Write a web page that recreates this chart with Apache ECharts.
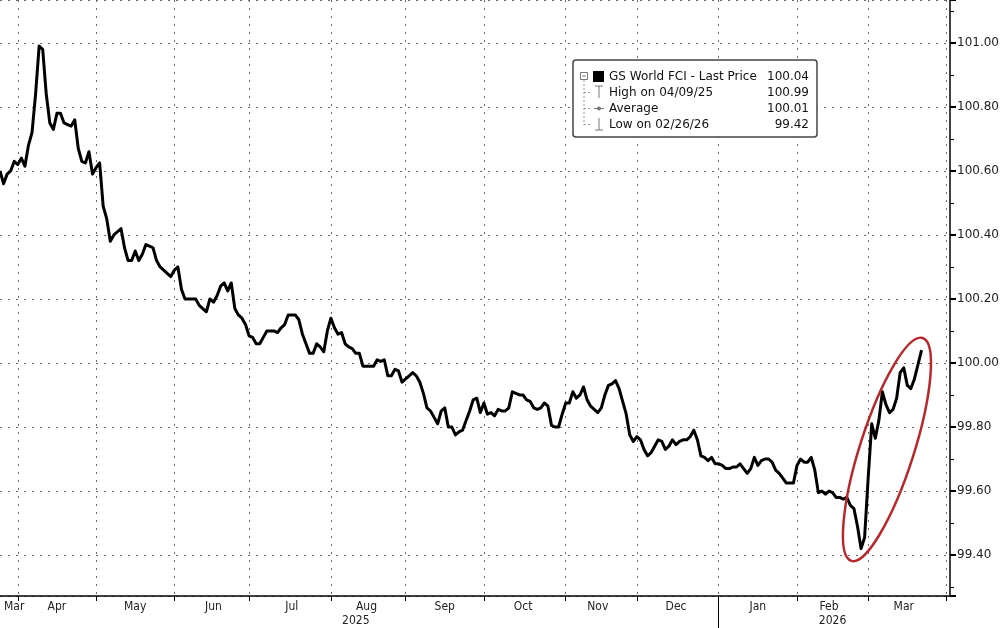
<!DOCTYPE html>
<html><head><meta charset="utf-8">
<script src="https://cdn.jsdelivr.net/npm/echarts@6/dist/echarts.min.js"></script>
<style>html,body{margin:0;padding:0;background:#fff}#c{width:1004px;height:628px}</style>
</head><body><div id="c"></div>
<script>
const mk = (ym, days) => days.map(d => ym + '-' + String(d).padStart(2, '0'));

// trading days with data
const dataDates = [].concat(
  mk('2025-03', [25,26,27,28,31]),
  mk('2025-04', [1,2,3,4,7,8,9,10,11,14,15,16,17,18,21,22,23,24,25,28,29,30]),
  mk('2025-05', [1,2,5,6,7,8,9,12,13,14,15,16,19,20,21,22,23,26,27,28,29,30]),
  mk('2025-06', [2,3,4,5,6,9,10,11,12,13,16,17,18,19,20,23,24,25,26,27,30]),
  mk('2025-07', [1,2,3,4,7,8,9,10,11,14,15,16,17,18,21,22,23,24,25,28,29,30,31]),
  mk('2025-08', [1,4,5,6,7,8,11,12,13,14,15,18,19,20,21,22,25,26,27,28,29]),
  mk('2025-09', [1,2,3,4,5,8,9,10,11,12,15,16,17,18,19,22,23,24,25,26,29,30]),
  mk('2025-10', [1,2,3,6,7,8,9,10,13,14,15,16,17,20,21,22,23,24,27,28,29,30,31]),
  mk('2025-11', [3,4,5,6,7,10,11,12,13,14,17,18,19,20,21,24,25,26,27,28]),
  mk('2025-12', [1,2,3,4,5,8,9,10,11,12,15,16,17,18,19,22,23,24,25,26,29,30,31]),
  mk('2026-01', [1,2,5,6,7,8,9,12,13,14,15,16,19,20,21,22,23,26,27,28,29,30]),
  mk('2026-02', [2,3,4,5,6,9,10,11,12,13,16,17,18,19,20,23,24,25,26,27]),
  mk('2026-03', [2,3,4,5,6,9,10,11,12,13,16,17,18,19,20,23])
);
// empty trading days to the right edge of the axis
const futureDates = [].concat(mk('2026-03', [24,25,26,27,30,31]), mk('2026-04', [1,2]));

// GS World FCI values (one per data date)
const values = [
  100.60,100.56,100.59,100.60,100.63,
  100.62,100.64,100.615,100.68,100.72,100.84,100.99,100.98,100.84,100.75,100.73,100.78,100.78,100.75,100.745,100.74,100.76,100.67,100.63,100.625,100.66,100.59,
  100.61,100.625,100.49,100.45,100.38,100.40,100.41,100.42,100.36,100.32,100.32,100.35,100.32,100.34,100.37,100.365,100.36,100.32,100.30,100.29,100.28,100.27,
  100.29,100.30,100.23,100.20,100.20,100.20,100.20,100.18,100.17,100.16,100.20,100.19,100.21,100.24,100.25,100.225,100.25,100.17,100.15,100.14,100.12,
  100.085,100.08,100.06,100.06,100.08,100.10,100.10,100.10,100.095,100.11,100.12,100.15,100.15,100.15,100.135,100.09,100.06,100.03,100.03,100.06,100.05,100.035,100.10,
  100.14,100.11,100.09,100.095,100.06,100.05,100.045,100.03,100.03,99.99,99.99,99.99,99.99,100.01,100.005,100.01,99.96,99.96,99.98,99.975,99.94,
  99.95,99.96,99.97,99.96,99.94,99.905,99.86,99.85,99.83,99.81,99.85,99.86,99.80,99.80,99.775,99.785,99.79,99.82,99.85,99.885,99.89,99.845,
  99.875,99.84,99.845,99.835,99.855,99.85,99.85,99.86,99.91,99.905,99.90,99.90,99.885,99.88,99.86,99.855,99.86,99.875,99.865,99.805,99.80,99.80,99.84,
  99.875,99.875,99.91,99.89,99.90,99.925,99.885,99.865,99.855,99.845,99.86,99.90,99.93,99.935,99.945,99.92,99.88,99.84,99.775,99.755,
  99.77,99.76,99.73,99.71,99.72,99.74,99.76,99.755,99.73,99.74,99.76,99.745,99.755,99.76,99.76,99.77,99.79,99.76,99.71,99.705,99.695,99.705,99.685,
  99.685,99.68,99.67,99.67,99.675,99.675,99.685,99.67,99.655,99.67,99.705,99.68,99.695,99.70,99.70,99.69,99.665,99.655,99.64,99.625,99.625,99.625,
  99.68,99.70,99.69,99.69,99.705,99.665,99.595,99.60,99.59,99.60,99.595,99.58,99.58,99.575,99.58,99.555,99.545,99.49,99.42,99.455,
  99.64,99.81,99.765,99.82,99.91,99.87,99.845,99.855,99.89,99.97,99.985,99.93,99.92,99.95,99.995,100.04
];

// axis ticks (month starts) and labels
const monthStartDates = ['2025-04-01','2025-05-01','2025-06-02','2025-07-01','2025-08-01','2025-09-01','2025-10-01','2025-11-03','2025-12-01','2026-01-01','2026-02-02','2026-03-02','2026-04-01'];
const monthLabelDates = ['2025-03-31','2025-04-16','2025-05-16','2025-06-17','2025-07-17','2025-08-15','2025-09-16','2025-10-16','2025-11-14','2025-12-16','2026-01-16','2026-02-13','2026-03-16'];
const monthLabels = ['Mar','Apr','May','Jun','Jul','Aug','Sep','Oct','Nov','Dec','Jan','Feb','Mar'];
const yearLabelDates = ['2025-08-12','2026-02-16'];
const yearLabels = ['2025','2026'];
const yearBreakDates = ['2026-01-01'];

// legend texts
const legendNames = ['GS World FCI - Last Price','High on 04/09/25','Average','Low on 02/26/26'];
const legendValues = ['100.04','100.99','100.01','99.42'];

const allDates = dataDates.concat(futureDates);
const lastPrice = values[values.length - 1];

const chart = echarts.init(document.getElementById('c'), null, {renderer: 'canvas'});
const dotted = {color: '#6a6a6a', width: 1, type: [2, 6]};
const textFont = 'DejaVu Sans';
const narrowFont = "'DejaVu Sans Condensed', 'Liberation Sans Narrow', 'Roboto Condensed', 'Liberation Sans', 'DejaVu Sans', sans-serif";
const lx = 609, rx = 809, rowY = [76.5, 92.5, 108.5, 124.5];
const gray = '#777';

const legendGraphic = [
  {type: 'rect', shape: {x: 573, y: 60, width: 244, height: 77, r: 3}, style: {fill: '#fff', stroke: '#444', lineWidth: 1.5}, z: 10},
  {type: 'rect', shape: {x: 580.5, y: 72.5, width: 7, height: 7}, style: {fill: '#fff', stroke: gray, lineWidth: 1}, z: 11},
  {type: 'line', shape: {x1: 582, y1: 76, x2: 586, y2: 76}, style: {stroke: gray, lineWidth: 1}, z: 11},
  {type: 'line', shape: {x1: 584, y1: 80, x2: 584, y2: 125}, style: {stroke: '#999', lineWidth: 1, lineDash: [2, 2]}, z: 11},
  {type: 'line', shape: {x1: 584, y1: 92.5, x2: 591, y2: 92.5}, style: {stroke: '#999', lineWidth: 1, lineDash: [2, 2]}, z: 11},
  {type: 'line', shape: {x1: 584, y1: 108.5, x2: 591, y2: 108.5}, style: {stroke: '#999', lineWidth: 1, lineDash: [2, 2]}, z: 11},
  {type: 'line', shape: {x1: 584, y1: 124.5, x2: 591, y2: 124.5}, style: {stroke: '#999', lineWidth: 1, lineDash: [2, 2]}, z: 11},
  {type: 'rect', shape: {x: 593, y: 71, width: 11, height: 11}, style: {fill: '#000'}, z: 11},
  {type: 'line', shape: {x1: 595, y1: 86, x2: 603, y2: 86}, style: {stroke: gray, lineWidth: 1}, z: 11},
  {type: 'line', shape: {x1: 599, y1: 86, x2: 599, y2: 98}, style: {stroke: gray, lineWidth: 1}, z: 11},
  {type: 'line', shape: {x1: 594, y1: 108.5, x2: 604, y2: 108.5}, style: {stroke: gray, lineWidth: 1}, z: 11},
  {type: 'circle', shape: {cx: 599, cy: 108.5, r: 2}, style: {fill: gray}, z: 11},
  {type: 'line', shape: {x1: 599, y1: 118, x2: 599, y2: 130}, style: {stroke: gray, lineWidth: 1}, z: 11},
  {type: 'line', shape: {x1: 595, y1: 130, x2: 603, y2: 130}, style: {stroke: gray, lineWidth: 1}, z: 11}
];
legendNames.forEach((t, i) => {
  legendGraphic.push({type: 'text', x: lx, y: rowY[i], style: {text: t, fill: '#111', font: '12px ' + textFont, textAlign: 'left', textVerticalAlign: 'middle'}, z: 11});
  legendGraphic.push({type: 'text', x: rx, y: rowY[i], style: {text: legendValues[i], fill: '#111', font: '12px ' + textFont, textAlign: 'right', textVerticalAlign: 'middle'}, z: 11});
});

const option = {
  backgroundColor: '#fff',
  animation: false,
  grid: {left: 0, right: 54, top: 0, bottom: 32, containLabel: false},
  xAxis: [{
    type: 'category', data: allDates, boundaryGap: false,
    axisLine: {show: true, lineStyle: {color: '#000', width: 1.5}},
    axisTick: {show: true, length: 5, interval: (i, v) => monthStartDates.includes(v), lineStyle: {color: '#000', width: 1}},
    splitLine: {show: true, interval: (i, v) => monthStartDates.includes(v), lineStyle: dotted},
    axisLabel: {
      interval: (i, v) => monthLabelDates.includes(v),
      formatter: v => monthLabels[monthLabelDates.indexOf(v)],
      color: '#222', fontFamily: narrowFont, fontSize: 12, margin: 5, hideOverlap: false
    }
  }, {
    type: 'category', data: allDates, boundaryGap: false, position: 'bottom', gridIndex: 0,
    axisLine: {show: false},
    axisTick: {show: true, length: 32, interval: (i, v) => yearBreakDates.includes(v), lineStyle: {color: '#000', width: 1}},
    splitLine: {show: false},
    axisLabel: {
      interval: (i, v) => yearLabelDates.includes(v),
      formatter: v => yearLabels[yearLabelDates.indexOf(v)],
      color: '#222', fontFamily: narrowFont, fontSize: 12, margin: 19, hideOverlap: false
    }
  }],
  yAxis: {
    type: 'value', position: 'right', min: 99.272, max: 101.134, splitNumber: 9, scale: true,
    axisLine: {show: true, lineStyle: {color: '#000', width: 1.5}},
    axisTick: {show: true, length: 6, lineStyle: {color: '#000', width: 2}},
    minorTick: {show: true, splitNumber: 2, length: 4, lineStyle: {color: '#000', width: 1}},
    splitLine: {show: true, lineStyle: dotted},
    axisLabel: {
      formatter: v => v.toFixed(2), showMinLabel: false, showMaxLabel: false,
      color: '#222', fontFamily: textFont, fontSize: 12, margin: 7
    }
  },
  series: [{
    type: 'line', data: values, symbol: 'none', showSymbol: false,
    lineStyle: {color: '#000', width: 3, join: 'round'},
    z: 5,
    markLine: {
      silent: true, symbol: 'none', animation: false,
      lineStyle: {opacity: 0},
      data: [{yAxis: lastPrice}],
      label: {
        position: 'end', distance: 5, formatter: () => lastPrice.toFixed(2),
        backgroundColor: '#000', color: '#fff', padding: [3, 3, 2, 3],
        fontFamily: textFont, fontSize: 12
      }
    }
  }],
  graphic: legendGraphic
};
chart.setOption(option);

// red annotation ellipse around the final rally, anchored in data space
const c = chart.convertToPixel({gridIndex: 0}, ['2026-03-09', 99.73]);
chart.setOption({graphic: legendGraphic.concat([{
  type: 'ellipse', x: c[0] + 1, y: c[1], rotation: -0.31,
  shape: {cx: 0, cy: 0, rx: 27, ry: 117},
  style: {fill: 'none', stroke: '#b8282a', lineWidth: 2.5}, z: 12
}])});
</script>
</body></html>
